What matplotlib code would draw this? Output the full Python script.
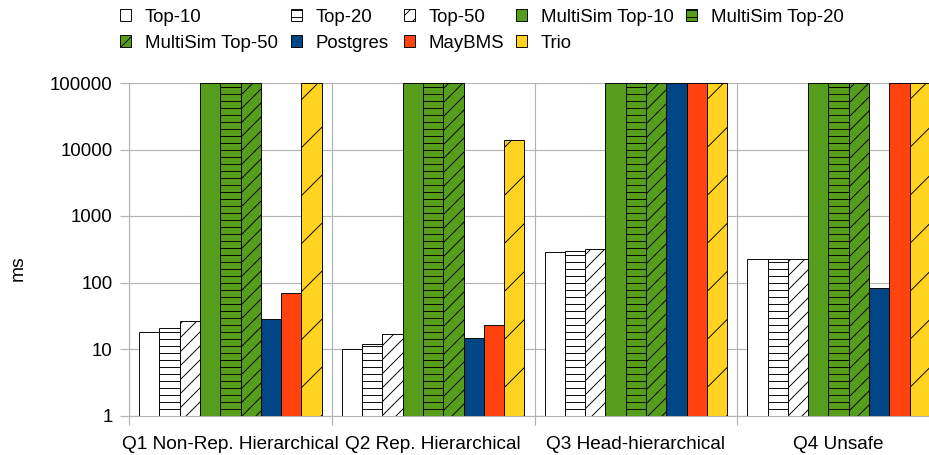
import numpy as np
import matplotlib as mpl
mpl.use('Agg')
import matplotlib.pyplot as plt
from matplotlib.lines import Line2D
from matplotlib.transforms import IdentityTransform, Bbox
import matplotlib.ticker as mticker

plt.rcParams['font.family'] = ['Liberation Sans', 'DejaVu Sans']
plt.rcParams['hatch.linewidth'] = 0.8

# query groups and per-method runtimes (ms); 100000 = timeout cap
queries = ["Q1 Non-Rep. Hierarchical", "Q2 Rep. Hierarchical",
           "Q3 Head-hierarchical", "Q4 Unsafe"]
methods = ["Top-10", "Top-20", "Top-50", "MultiSim Top-10", "MultiSim Top-20",
           "MultiSim Top-50", "Postgres", "MayBMS", "Trio"]

top10 = [18.0, 10.1, 283, 222]
top20 = [20.5, 11.8, 293, 222]
top50 = [26.4, 17.0, 318, 224]
ms_top10 = [100000, 100000, 100000, 100000]
ms_top20 = [100000, 100000, 100000, 100000]
ms_top50 = [100000, 100000, 100000, 100000]
postgres = [28.3, 14.5, 100000, 84]
maybms = [69.2, 22.8, 100000, 100000]
trio = [100000, 13800, 100000, 100000]

series = [top10, top20, top50, ms_top10, ms_top20, ms_top50, postgres, maybms, trio]
faces = ['white', 'white', 'white', '#579d1c', '#579d1c', '#579d1c',
         '#004586', '#ff420e', '#ffd320']
hatches = [None, '--', '//', None, '--', '//', None, None, None]

DPI = 84
W, H = 929, 455
fig = plt.figure(figsize=(W / DPI, H / DPI), dpi=DPI)

# axes box in pixels (right edge runs past the canvas)
left, right, top, bottom = 129, 940, 83, 415.5
ax = fig.add_axes([left / W, 1 - bottom / H, (right - left) / W, (bottom - top) / H])

x = np.arange(len(queries))
bw = 0.1
bars = []
for i, vals in enumerate(series):
    offs = (i - 4) * bw
    b = ax.bar(x + offs, vals, width=bw, bottom=0, color=faces[i],
               edgecolor='black', linewidth=0.8, hatch=hatches[i],
               label=methods[i], zorder=3)
    bars.append(b)

ax.set_yscale('log')
ax.set_ylim(1, 100000)
ax.set_xlim(-0.5, len(queries) - 0.5)

grey = '#b3b3b3'
ax.yaxis.set_major_locator(mticker.FixedLocator([1, 10, 100, 1000, 10000, 100000]))
ax.yaxis.set_minor_locator(mticker.NullLocator())
ax.yaxis.set_major_formatter(mticker.FuncFormatter(lambda v, _: f"{int(round(v))}"))
ax.grid(axis='y', color=grey, linewidth=1.0, zorder=0)

ax.set_xticks(x)
ax.set_xticklabels(queries)
ax.set_xticks(np.arange(len(queries) + 1) - 0.5, minor=True)
ax.grid(axis='x', which='minor', color=grey, linewidth=1.0, zorder=0)
ax.tick_params(axis='x', which='major', length=0, pad=17.5, labelsize=16.3)
ax.tick_params(axis='x', which='minor', length=8, color=grey, width=1.0)
ax.tick_params(axis='y', length=8, color=grey, width=1.0, pad=6, labelsize=16)

for s in ['top', 'right']:
    ax.spines[s].set_visible(False)
for s in ['left', 'bottom']:
    ax.spines[s].set_color(grey)
    ax.spines[s].set_linewidth(1.0)

fig.text(18 / W, 1 - 268 / H, "ms", rotation=90, fontsize=16.5,
         ha='center', va='center')

# sparse diagonal hatching on the Trio bars, drawn in pixel space
spacing = 48
for rect in bars[8]:
    x0, y0 = ax.transData.transform((rect.get_x(), 1))
    x1, y1 = ax.transData.transform((rect.get_x() + rect.get_width(), rect.get_height()))
    box = Bbox([[x0, y0], [x1, y1]])
    for c in np.arange(-(x1 - x0) - spacing, (y1 - y0) + spacing, spacing):
        ln = Line2D([x0, x1], [y0 + c, y0 + c + (x1 - x0)], color='black',
                    linewidth=0.8, transform=IdentityTransform(), zorder=4)
        ln.set_clip_box(box)
        fig.add_artist(ln)

# legend: five columns placed individually, two entries max per column
handles = [b[0] for b in bars]
columns = [[0, 5], [1, 6], [2, 7], [3, 8], [4]]
col_x = [120, 291, 404, 516, 686]
for cx, idx in zip(col_x, columns):
    fig.legend([handles[k] for k in idx], [methods[k] for k in idx],
               loc='upper left', bbox_to_anchor=(cx / W, 1 - 9 / H),
               frameon=False, fontsize=16, handlelength=0.6, handleheight=0.6,
               handletextpad=0.72, labelspacing=0.48,
               borderpad=0, borderaxespad=0)

fig.savefig("out.png", dpi=DPI)
